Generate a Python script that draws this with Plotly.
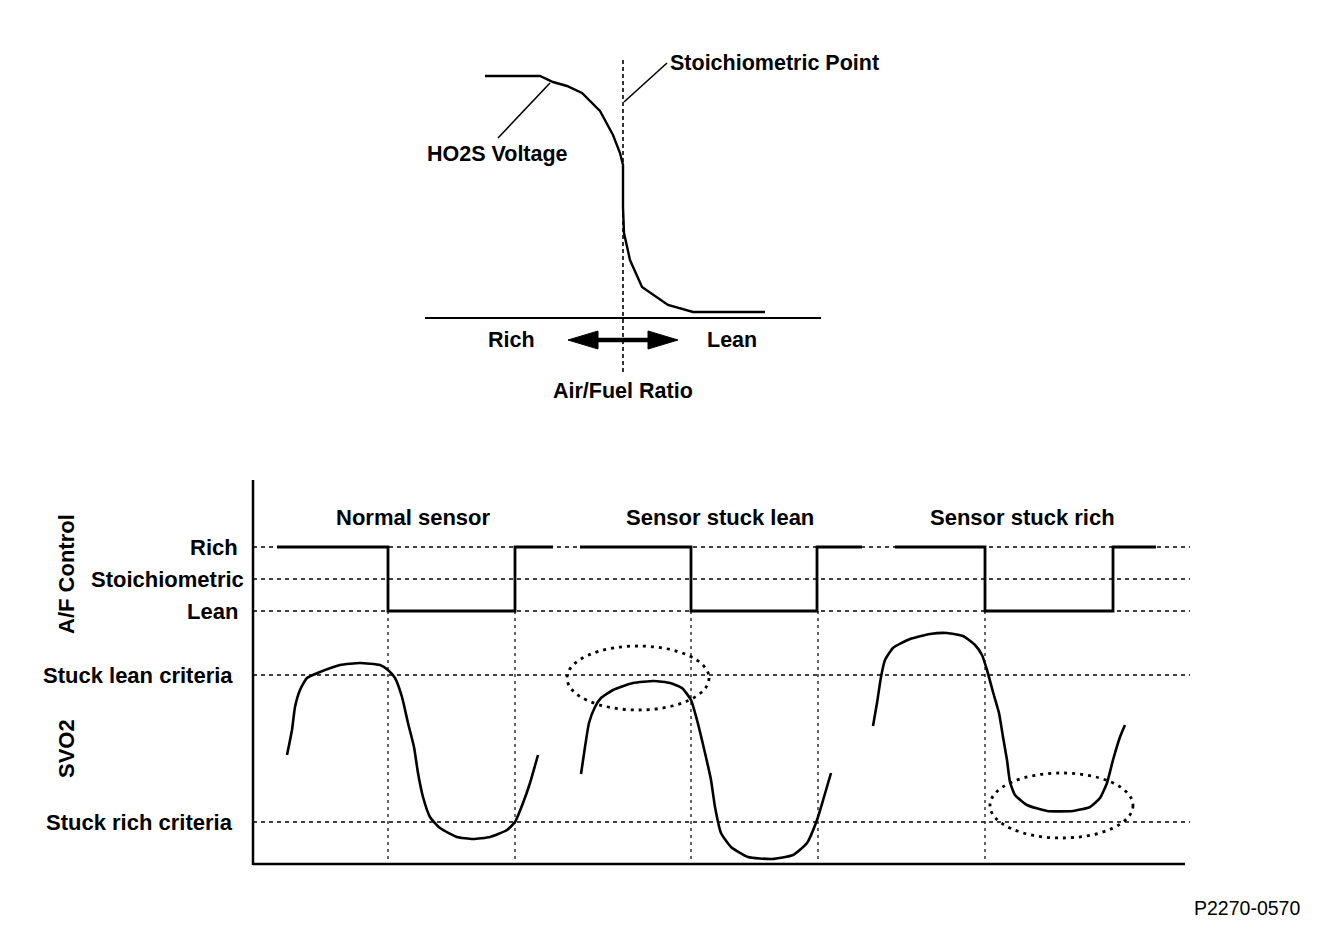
import plotly.graph_objects as go

W, H = 1344, 942
PAGE_MARGIN = 8  # default body margin of the html page
FONT = "Liberation Sans"

# ---------------- Top diagram: HO2S voltage vs air/fuel ratio (drawing units) ----------------
ho2s_x = [485, 540, 553, 567, 582, 600, 613, 620, 623, 623, 624, 630, 642, 668, 693, 765]
ho2s_y = [76, 76, 82, 86, 93, 111, 135, 153, 165, 207, 233, 260, 287, 305, 312, 312]
af_axis_x = [425, 821]
af_axis_y = [318, 318]
stoich_line_x = [623, 623]
stoich_line_y = [60, 372]
leader_ho2s_x = [550, 498]
leader_ho2s_y = [83, 138]
leader_stoich_x = [667, 624]
leader_stoich_y = [63, 102]
arrow_shaft_x = [590, 656]
arrow_shaft_y = [340, 340]
arrow_left_x = [568, 598, 598, 568]
arrow_left_y = [340, 331, 349, 340]
arrow_right_x = [678, 648, 648, 678]
arrow_right_y = [340, 331, 349, 340]

# ---------------- Bottom diagram ----------------
level_labels = ["Rich", "Stoichiometric", "Lean", "Stuck lean criteria", "Stuck rich criteria"]
level_y = [547, 579, 611, 675, 822]
level_label_right = [240, 246, 240, 235, 235]
grid_x = [253, 1190]

panel_titles = ["Normal sensor", "Sensor stuck lean", "Sensor stuck rich"]
panel_title_x = [413, 720, 1022]
panel_title_y = 517

# A/F control square waves: [start, drop, rise, end] per panel
af_edges = [
    [277, 388, 515, 553],
    [580, 691, 817, 862],
    [895, 985, 1113, 1156],
]
transition_x = [388, 515, 691, 818, 985]

# SVO2 curves
svo2_normal_x = [287, 292, 295, 300, 307, 320, 340, 360, 380, 388, 395, 402, 408, 414, 418, 423, 430, 440, 457, 473, 490, 507, 515, 523, 530, 538]
svo2_normal_y = [755, 730, 707, 690, 678, 672, 665, 663, 665, 670, 678, 697, 723, 747, 773, 797, 817, 828, 837, 839, 837, 830, 822, 803, 783, 755]
svo2_lean_x = [581, 585, 589, 595, 601, 613, 633, 654, 670, 682, 691, 697, 705, 711, 715, 721, 731, 748, 772, 793, 807, 817, 824, 831]
svo2_lean_y = [774, 747, 723, 707, 698, 690, 683, 681, 683, 688, 700, 720, 753, 780, 807, 833, 847, 857, 859, 855, 843, 820, 797, 773]
svo2_rich_x = [873, 877, 881, 885, 893, 910, 930, 947, 963, 975, 982, 987, 993, 999, 1003, 1007, 1010, 1015, 1027, 1047, 1073, 1090, 1100, 1107, 1113, 1120, 1125]
svo2_rich_y = [726, 703, 677, 660, 648, 639, 634, 633, 636, 645, 655, 670, 692, 713, 737, 760, 782, 795, 805, 811, 811, 807, 798, 783, 760, 737, 725]

# highlight ellipses: [x0, y0, x1, y1]
ellipses = [[567, 646, 709, 710], [990, 773, 1133, 838]]

fig = go.Figure()

def line(x, y, width=2, dash="solid", shape="linear"):
    fig.add_trace(go.Scatter(x=x, y=y, mode="lines",
                             line=dict(color="black", width=width, dash=dash, shape=shape,
                                       **({"smoothing": 0.5} if shape == "spline" else {})),
                             hoverinfo="skip", showlegend=False))

# top diagram
line(af_axis_x, af_axis_y, 2.2)
line(stoich_line_x, stoich_line_y, 1.6, "4px,3px")
line(ho2s_x, ho2s_y, 2.4)
line(leader_ho2s_x, leader_ho2s_y, 1.6)
line(leader_stoich_x, leader_stoich_y, 1.6)
line(arrow_shaft_x, arrow_shaft_y, 4.5)
for ax_, ay_ in [(arrow_left_x, arrow_left_y), (arrow_right_x, arrow_right_y)]:
    fig.add_trace(go.Scatter(x=ax_, y=ay_, mode="lines", fill="toself", fillcolor="black",
                             line=dict(color="black", width=1), hoverinfo="skip", showlegend=False))

# bottom diagram grid
for ly in level_y:
    line(grid_x, [ly, ly], 1.5, "4px,4px")
for tx in transition_x:
    line([tx, tx], [level_y[2], 864], 1.2, "3px,4px")
# axes
line([253, 253], [480, 865], 2.5)
line([253, 1185], [864, 864], 2.5)

# A/F square waves
rich, lean = level_y[0], level_y[2]
for s, d, r, e in af_edges:
    line([s, d, d, r, r, e], [rich, rich, lean, lean, rich, rich], 2.8)

# SVO2 curves
line(svo2_normal_x, svo2_normal_y, 2.6, shape="spline")
line(svo2_lean_x, svo2_lean_y, 2.6, shape="spline")
line(svo2_rich_x, svo2_rich_y, 2.6, shape="spline")

shapes = []
for x0, y0, x1, y1 in ellipses:
    shapes.append(dict(type="circle", xref="x", yref="y", x0=x0, y0=y0, x1=x1, y1=y1,
                       line=dict(color="black", width=2.8, dash="3px,5px")))

ann = []
def text(t, x, y, xanchor="center", size=22, bold=True, angle=0):
    ann.append(dict(text=f"<b>{t}</b>" if bold else t, x=x, y=y, xref="x", yref="y",
                    xanchor=xanchor, yanchor="middle", showarrow=False, textangle=angle,
                    font=dict(family=FONT, size=size, color="black")))

text("Stoichiometric Point", 668, 63, "left", size=21.5)
text("HO2S Voltage", 425, 154, "left", size=21.5)
text("Rich", 511, 340, size=21.5)
text("Lean", 732, 340, size=21.5)
text("Air/Fuel Ratio", 623, 391, size=21.5)

for t, tx in zip(panel_titles, panel_title_x):
    text(t, tx, panel_title_y)
for t, ly, rx in zip(level_labels, level_y, level_label_right):
    text(t, rx, ly, "right")
text("A/F Control", 66, 574, angle=-90)
text("SVO2", 66, 749, angle=-90)
text("P2270-0570", 1247, 908, size=19.5, bold=False)

m = PAGE_MARGIN
fig.update_layout(
    width=W - 2 * m, height=H - 2 * m, margin=dict(l=0, r=0, t=0, b=0),
    paper_bgcolor="white", plot_bgcolor="white",
    xaxis=dict(range=[m, W - m], visible=False, fixedrange=True),
    yaxis=dict(range=[H - m, m], visible=False, fixedrange=True),
    shapes=shapes, annotations=ann, showlegend=False,
)
fig.write_html("out.html")
